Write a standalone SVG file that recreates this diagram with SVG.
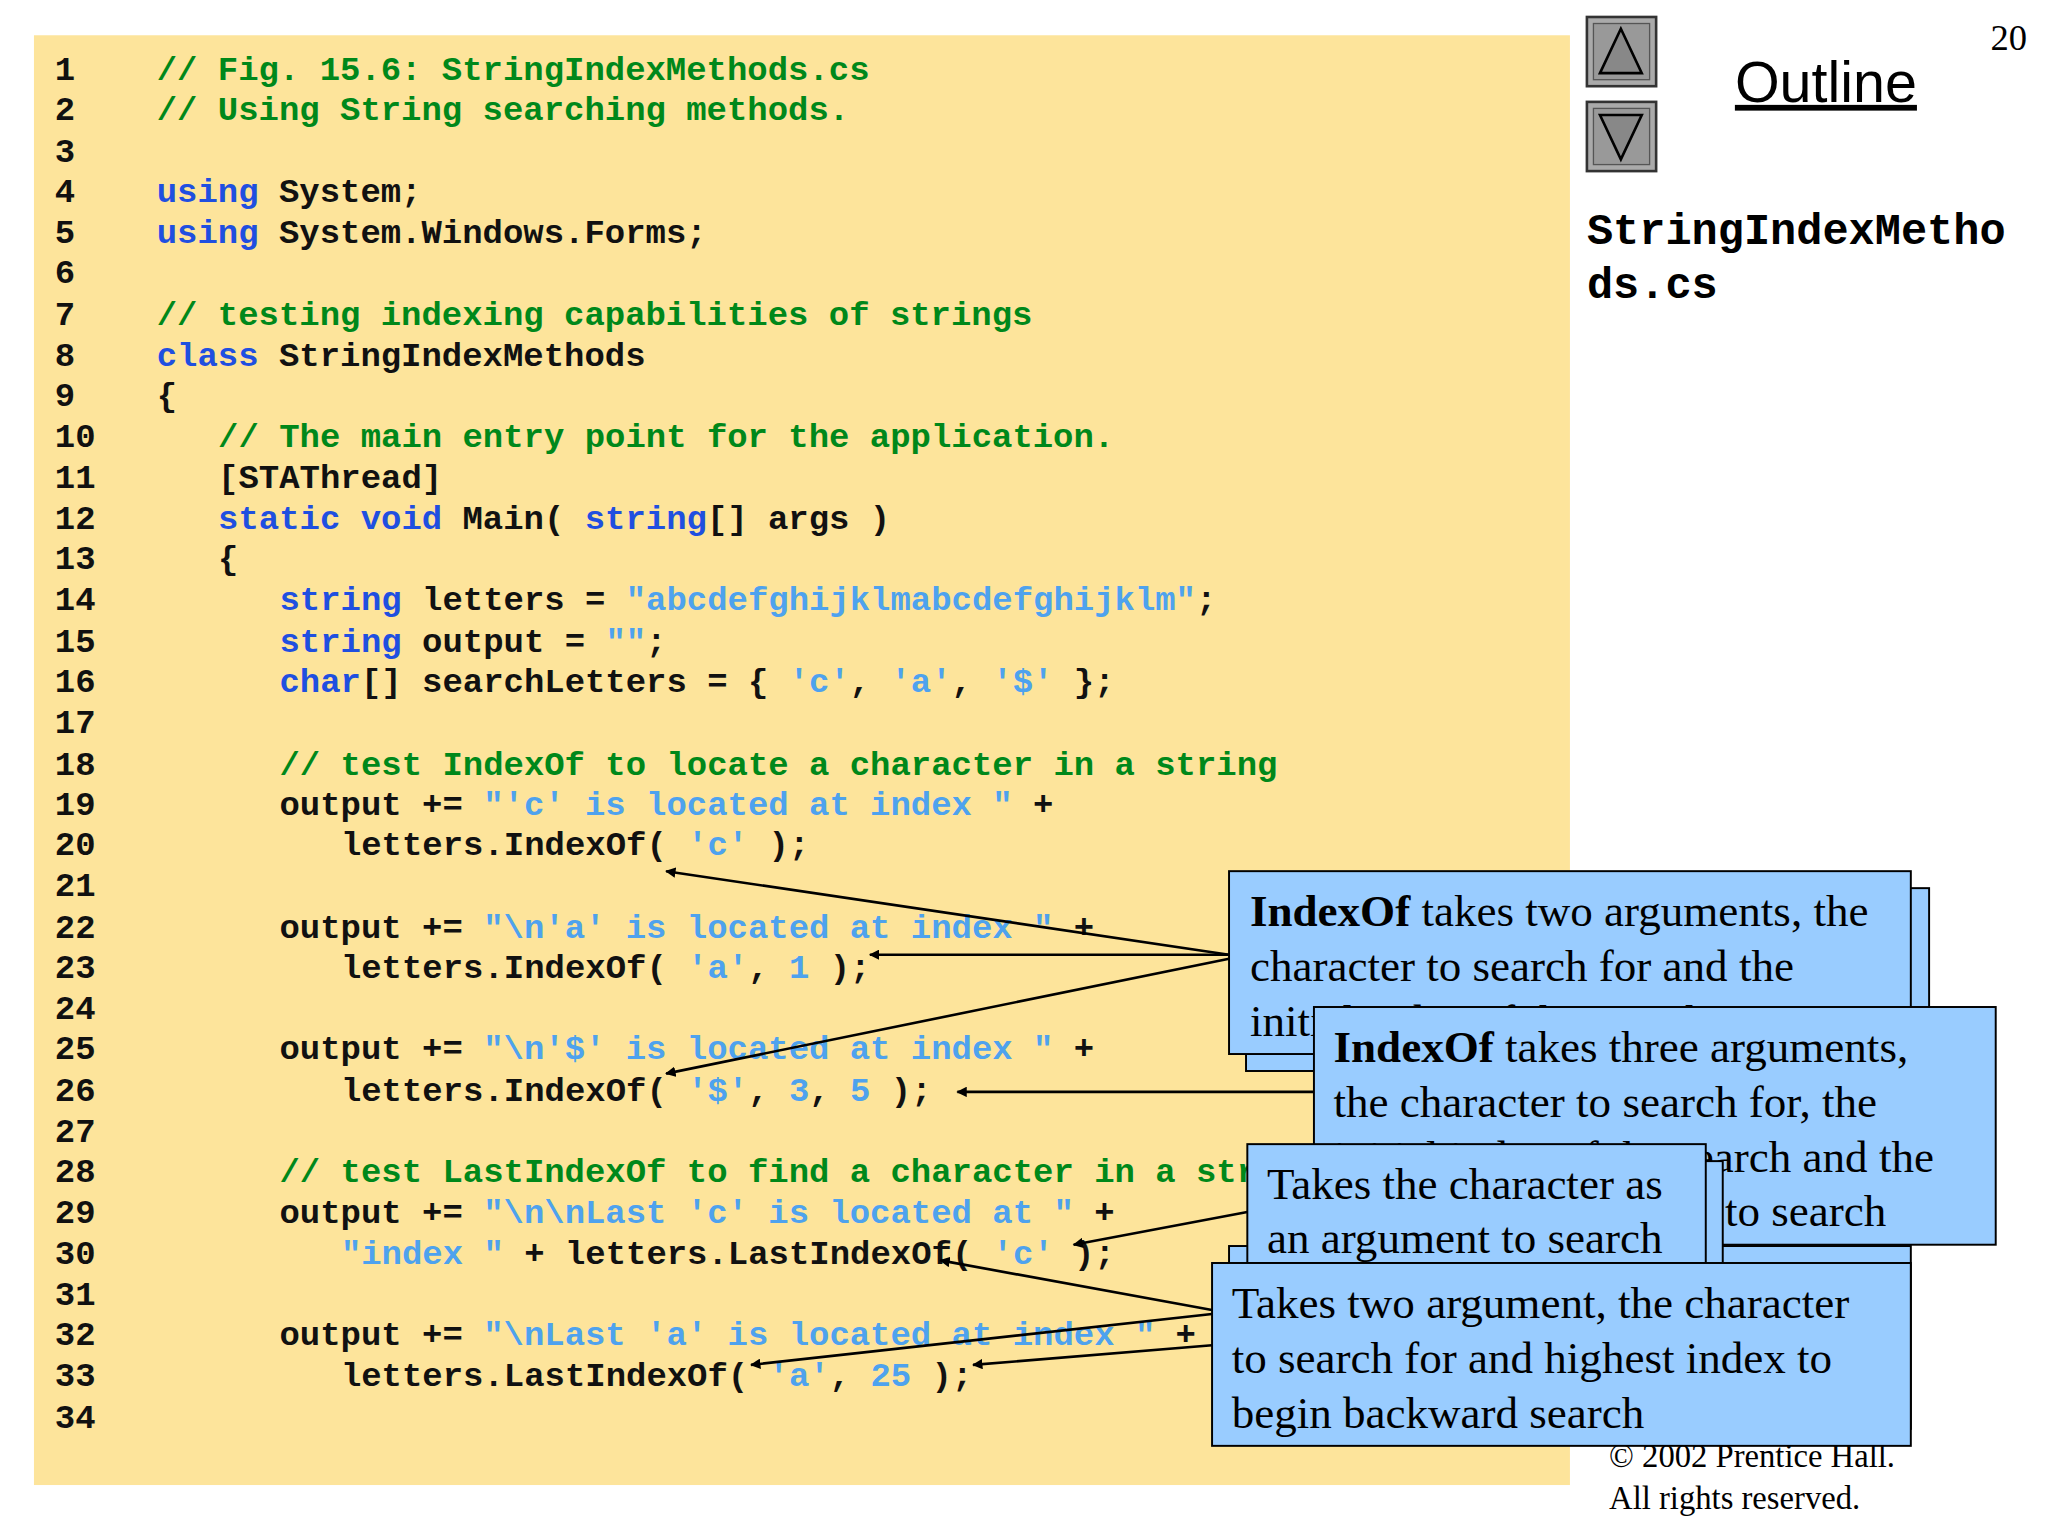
<svg xmlns="http://www.w3.org/2000/svg" width="2048" height="1536" viewBox="0 0 2048 1536">
<style>
.c{font-family:"Liberation Mono","Courier New",monospace;font-weight:bold;font-size:26px;fill:#111}
.g{fill:#00881a}.k{fill:#1f4fe0}.s{fill:#4ea2ee}
.t{font-family:"Liberation Serif","Times New Roman",serif;font-size:34.5px;fill:#000}
.box{fill:#99ccff;stroke:#000;stroke-width:1.5}
.ln{stroke:#000;stroke-width:2;fill:none;marker-end:url(#ah)}
</style>
<defs><marker id="ah" viewBox="0 0 10 10" refX="9" refY="5" markerWidth="8" markerHeight="8" orient="auto" markerUnits="userSpaceOnUse"><path d="M0,0L10,5L0,10z" fill="#000"/></marker></defs>
<rect width="2048" height="1536" fill="#fff"/>
<g transform="scale(1.3061)">
<rect x="26" y="27" width="1176" height="1110" fill="#fde49b"/>
<g id="code" class="c">
<text x="42" y="61">1</text><text x="42" y="92">2</text><text x="42" y="124">3</text><text x="42" y="155">4</text><text x="42" y="186">5</text><text x="42" y="217">6</text><text x="42" y="249">7</text><text x="42" y="280">8</text><text x="42" y="311">9</text><text x="42" y="342">10</text><text x="42" y="374">11</text><text x="42" y="405">12</text><text x="42" y="436">13</text><text x="42" y="467">14</text><text x="42" y="499">15</text><text x="42" y="530">16</text><text x="42" y="561">17</text><text x="42" y="593">18</text><text x="42" y="624">19</text><text x="42" y="655">20</text><text x="42" y="686">21</text><text x="42" y="718">22</text><text x="42" y="749">23</text><text x="42" y="780">24</text><text x="42" y="811">25</text><text x="42" y="843">26</text><text x="42" y="874">27</text><text x="42" y="905">28</text><text x="42" y="936">29</text><text x="42" y="968">30</text><text x="42" y="999">31</text><text x="42" y="1030">32</text><text x="42" y="1061">33</text><text x="42" y="1093">34</text>
<text x="120" y="61" class="g">// Fig. 15.6: StringIndexMethods.cs</text>
<text x="120" y="92" class="g">// Using String searching methods.</text>
<text x="120" y="155"><tspan class="k">using</tspan> System;</text>
<text x="120" y="186"><tspan class="k">using</tspan> System.Windows.Forms;</text>
<text x="120" y="249" class="g">// testing indexing capabilities of strings</text>
<text x="120" y="280"><tspan class="k">class</tspan> StringIndexMethods</text>
<text x="120" y="311">{</text>
<text x="167" y="342" class="g">// The main entry point for the application.</text>
<text x="167" y="374">[STAThread]</text>
<text x="167" y="405"><tspan class="k">static void</tspan> Main( <tspan class="k">string</tspan>[] args )</text>
<text x="167" y="436">{</text>
<text x="214" y="467"><tspan class="k">string</tspan> letters = <tspan class="s">"abcdefghijklmabcdefghijklm"</tspan>;</text>
<text x="214" y="499"><tspan class="k">string</tspan> output = <tspan class="s">""</tspan>;</text>
<text x="214" y="530"><tspan class="k">char</tspan>[] searchLetters = { <tspan class="s">'c'</tspan>, <tspan class="s">'a'</tspan>, <tspan class="s">'$'</tspan> };</text>
<text x="214" y="593" class="g">// test IndexOf to locate a character in a string</text>
<text x="214" y="624">output += <tspan class="s">"'c' is located at index "</tspan> +</text>
<text x="261" y="655">letters.IndexOf( <tspan class="s">'c'</tspan> );</text>
<text x="214" y="718">output += <tspan class="s">"\n'a' is located at index "</tspan> +</text>
<text x="261" y="749">letters.IndexOf( <tspan class="s">'a'</tspan>, <tspan class="s">1</tspan> );</text>
<text x="214" y="811">output += <tspan class="s">"\n'$' is located at index "</tspan> +</text>
<text x="261" y="843">letters.IndexOf( <tspan class="s">'$'</tspan>, <tspan class="s">3</tspan>, <tspan class="s">5</tspan> );</text>
<text x="214" y="905" class="g">// test LastIndexOf to find a character in a string</text>
<text x="214" y="936">output += <tspan class="s">"\n\nLast 'c' is located at "</tspan> +</text>
<text x="261" y="968"><tspan class="s">"index "</tspan> + letters.LastIndexOf( <tspan class="s">'c'</tspan> );</text>
<text x="214" y="1030">output += <tspan class="s">"\nLast 'a' is located at index "</tspan> +</text>
<text x="261" y="1061">letters.LastIndexOf( <tspan class="s">'a'</tspan>, <tspan class="s">25</tspan> );</text>
</g>
<g id="nav">
<rect x="1215" y="13" width="53" height="53" fill="#aaa" stroke="#333" stroke-width="2"/>
<rect x="1220" y="18" width="43" height="43" fill="#999" stroke="#555"/>
<path d="M1225,56L1241,22L1257,56z" fill="#888" stroke="#000" stroke-width="2"/>
<rect x="1215" y="78" width="53" height="53" fill="#aaa" stroke="#333" stroke-width="2"/>
<rect x="1220" y="83" width="43" height="43" fill="#999" stroke="#555"/>
<path d="M1225,88L1241,122L1257,88z" fill="#888" stroke="#000" stroke-width="2"/>
<text x="1398" y="78" text-anchor="middle" font-family="Liberation Sans,Arial,sans-serif" font-size="44" text-decoration="underline">Outline</text>
<text x="1552" y="38" text-anchor="end" font-family="Liberation Serif,serif" font-size="28">20</text>
<text x="1215" y="187" font-family="Liberation Mono,monospace" font-weight="bold" font-size="33.4">StringIndexMetho</text>
<text x="1215" y="228" font-family="Liberation Mono,monospace" font-weight="bold" font-size="33.4">ds.cs</text>
<text x="1232" y="1123" font-family="Liberation Serif,serif" font-size="25">© 2002 Prentice Hall.</text>
<text x="1232" y="1155" font-family="Liberation Serif,serif" font-size="25">All rights reserved.</text>
</g>
<g id="connectors">
<line class="ln" x1="941" y1="731" x2="510" y2="667"/>
<line class="ln" x1="941" y1="731" x2="666" y2="731"/>
<line class="ln" x1="941" y1="734" x2="510" y2="822"/>
<line class="ln" x1="1006" y1="836" x2="733" y2="836"/>
<line class="ln" x1="955" y1="928" x2="822" y2="953"/>
<line class="ln" x1="928" y1="1003" x2="720" y2="965"/>
<line class="ln" x1="928" y1="1006" x2="575" y2="1045"/>
<line class="ln" x1="928" y1="1030" x2="745" y2="1045"/>
</g>
<g id="callout1">
<rect class="box" x="954" y="680" width="523" height="140"/>
<rect class="box" x="941" y="667" width="522" height="140"/>
<text class="t" x="957" y="709"><tspan font-weight="bold">IndexOf</tspan> takes two arguments, the</text>
<text class="t" x="957" y="751">character to search for and the</text>
<text class="t" x="957" y="793">initial index of the search</text>
</g>
<g id="callout2">
<rect class="box" x="1006" y="771" width="522" height="182"/>
<text class="t" x="1021" y="813"><tspan font-weight="bold">IndexOf</tspan> takes three arguments,</text>
<text class="t" x="1021" y="855">the character to search for, the</text>
<text class="t" x="1021" y="897">initial index of the search and the</text>
<text class="t" x="1021" y="939">number of characters to search</text>
</g>
<g id="callout3">
<rect class="box" x="941" y="954" width="522" height="140"/>
<rect class="box" x="968" y="889" width="351" height="91"/>
<rect class="box" x="955" y="876" width="351" height="91"/>
<text class="t" x="970" y="918">Takes the character as</text>
<text class="t" x="970" y="959">an argument to search</text>
</g>
<g id="callout4">
<rect class="box" x="928" y="967" width="535" height="140"/>
<text class="t" x="943" y="1009">Takes two argument, the character</text>
<text class="t" x="943" y="1051">to search for and highest index to</text>
<text class="t" x="943" y="1093">begin backward search</text>
</g>
</g>
</svg>
